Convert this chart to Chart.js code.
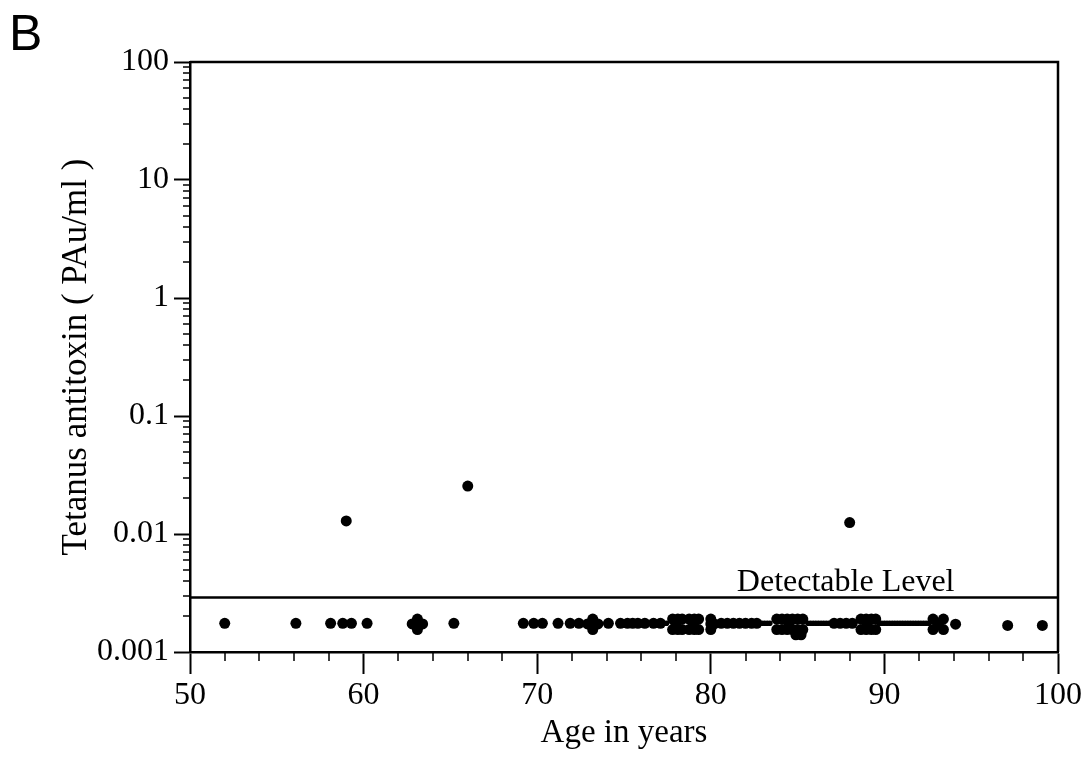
<!DOCTYPE html>
<html>
<head>
<meta charset="utf-8">
<title>Tetanus antitoxin by age</title>
<script src="https://cdn.jsdelivr.net/npm/chart.js@4.4.1/dist/chart.umd.min.js"></script>
<style>
  html, body { margin: 0; padding: 0; background: #fff; }
  #wrap { width: 1088px; height: 760px; }
</style>
</head>
<body>
<div id="wrap"><canvas id="chart" width="1088" height="760"></canvas></div>
<script>
// values (age in years, antitoxin in PAu/ml)
const detectedAges = [59, 66, 88];
const detectedValues = [0.0129, 0.0255, 0.0125];

// samples below the detectable level, plotted at ~0.0017
const belowAges = [52.0, 56.1, 58.1, 58.8, 59.3, 60.2,
  62.8, 63.1, 63.1, 63.1, 63.4, 65.2,
  69.2, 69.8, 70.3, 71.2, 71.9, 72.4,
  72.9, 73.2, 73.2, 73.2, 73.5,
  74.1, 74.8, 75.2, 75.5, 75.8, 76.2, 76.7, 77.1,
  77.8, 78.1, 78.35, 77.8, 78.1, 78.35, 78.0,
  78.75, 79.05, 79.3, 78.75, 79.05, 79.3, 79.0,
  80.0, 80.0, 80.0, 80.2,
  80.6, 80.95, 81.3, 81.65, 82.0, 82.35, 82.65,
  83.8, 84.1, 84.4, 84.7, 85.0, 85.3, 83.8, 84.1, 84.4, 84.7, 85.0, 85.3, 84.5, 84.9, 85.2,
  87.1, 87.45, 87.8, 88.15,
  88.65, 88.95, 89.25, 89.5, 88.65, 88.95, 89.25, 89.5, 89.0,
  92.8, 93.4, 93.1, 92.8, 93.4,
  94.1, 97.1, 99.1];
const belowValues = [0.00175, 0.00175, 0.00175, 0.00175, 0.00175, 0.00175,
  0.00173, 0.0019, 0.00173, 0.00155, 0.00173, 0.00175,
  0.00175, 0.00175, 0.00175, 0.00175, 0.00175, 0.00175,
  0.00173, 0.0019, 0.00173, 0.00155, 0.00173,
  0.00175, 0.00175, 0.00175, 0.00175, 0.00175, 0.00175, 0.00175, 0.00175,
  0.0019, 0.0019, 0.0019, 0.00155, 0.00155, 0.00155, 0.00173,
  0.0019, 0.0019, 0.0019, 0.00155, 0.00155, 0.00155, 0.00173,
  0.0019, 0.00173, 0.00155, 0.00173,
  0.00175, 0.00175, 0.00175, 0.00175, 0.00175, 0.00175, 0.00175,
  0.0019, 0.0019, 0.0019, 0.0019, 0.0019, 0.0019, 0.00155, 0.00155, 0.00155, 0.00155, 0.00155, 0.00155, 0.00173, 0.0014, 0.0014,
  0.00175, 0.00175, 0.00175, 0.00175,
  0.0019, 0.0019, 0.0019, 0.0019, 0.00155, 0.00155, 0.00155, 0.00155, 0.00173,
  0.0019, 0.0019, 0.00173, 0.00155, 0.00155,
  0.00172, 0.00168, 0.00168];

// densely packed runs that print as a thin bar
const runAges = [77.15, 77.3, 77.45,
  82.8, 82.95, 83.1, 83.25, 83.4,
  85.6, 85.75, 85.9, 86.05, 86.2, 86.35, 86.5, 86.65, 86.8,
  89.7, 89.85, 90.0, 90.15, 90.3, 90.45, 90.6, 90.75, 90.9, 91.05, 91.2,
  91.35, 91.5, 91.65, 91.8, 91.95, 92.1, 92.25, 92.4, 92.55];
const runValue = 0.00175;

const detectableLevel = 0.0029;
const detectableLabel = 'Detectable Level';
const detectableLabelAge = 81.5;

const xMin = 50, xMax = 100, xStep = 10;
const xMinorTicks = [52, 54, 56, 58, 62, 64, 66, 68, 72, 74, 76, 78, 82, 84, 86, 88, 92, 94, 96, 98];
const yTickValues = [0.001, 0.01, 0.1, 1, 10, 100];
const yTickLabels = ['0.001', '0.01', '0.1', '1', '10', '100'];
const yMinorSteps = [2, 3, 4, 5, 6, 7, 8, 9];

const serif = '"Liberation Serif", "Times New Roman", serif';
const toPts = (xs, ys) => xs.map((x, i) => ({ x, y: Array.isArray(ys) ? ys[i] : ys }));

const extras = {
  id: 'extras',
  afterDraw(chart){
    const ctx = chart.ctx, a = chart.chartArea;
    const xs = chart.scales.x, ys = chart.scales.y;
    ctx.save();
    ctx.strokeStyle = '#000';
    // box: top and right
    ctx.lineWidth = 2.5;
    ctx.beginPath();
    ctx.moveTo(a.left, a.top); ctx.lineTo(a.right, a.top); ctx.lineTo(a.right, a.bottom);
    ctx.stroke();
    // minor ticks
    ctx.lineWidth = 1.5;
    ctx.beginPath();
    xMinorTicks.forEach(v => {
      const px = Math.round(xs.getPixelForValue(v));
      ctx.moveTo(px, a.bottom); ctx.lineTo(px, a.bottom + 9);
    });
    yTickValues.slice(0, -1).forEach(d => yMinorSteps.forEach(m => {
      const py = Math.round(ys.getPixelForValue(d * m));
      ctx.moveTo(a.left - 7, py); ctx.lineTo(a.left, py);
    }));
    ctx.stroke();
    // label over the detectable-level line
    ctx.fillStyle = '#000';
    ctx.font = '32px ' + serif;
    ctx.textBaseline = 'alphabetic';
    ctx.fillText(detectableLabel, xs.getPixelForValue(detectableLabelAge), ys.getPixelForValue(detectableLevel) - 6);
    // panel letter
    ctx.font = '50px "Liberation Sans", Arial, sans-serif';
    ctx.fillText('B', 9, 50);
    ctx.restore();
  }
};

new Chart(document.getElementById('chart').getContext('2d'), {
  type: 'scatter',
  data: {
    datasets: [
      { label: 'detectable level', type: 'line', data: toPts([xMin, xMax], detectableLevel),
        borderColor: '#000', borderWidth: 2.5, pointRadius: 0, fill: false },
      { label: 'runs', data: toPts(runAges, runValue),
        backgroundColor: '#000', borderWidth: 0, pointRadius: 2.8 },
      { label: 'below', data: toPts(belowAges, belowValues),
        backgroundColor: '#000', borderWidth: 0, pointRadius: 5.5 },
      { label: 'detected', data: toPts(detectedAges, detectedValues),
        backgroundColor: '#000', borderWidth: 0, pointRadius: 5.5 }
    ]
  },
  options: {
    responsive: false,
    animation: false,
    devicePixelRatio: 1,
    layout: { padding: { top: 62, right: 30, left: 0, bottom: 0 } },
    plugins: { legend: { display: false }, tooltip: { enabled: false } },
    scales: {
      x: {
        type: 'linear', min: xMin, max: xMax,
        ticks: { stepSize: xStep, color: '#000', font: { family: serif, size: 32 }, padding: 2, maxRotation: 0 },
        grid: { drawOnChartArea: false, drawTicks: true, tickLength: 22, tickWidth: 2, tickColor: '#000' },
        border: { display: true, color: '#000', width: 2.5 },
        title: { display: true, text: 'Age in years', color: '#000', font: { family: serif, size: 33 }, padding: { top: 7, bottom: 7 } },
        afterFit: s => { s.height = 108; }
      },
      y: {
        type: 'logarithmic', min: 0.001, max: 100,
        afterBuildTicks: s => { s.ticks = yTickValues.map(v => ({ value: v, major: true })); },
        ticks: {
          color: '#000', font: { family: serif, size: 32 }, padding: 5, autoSkip: false,
          callback: v => {
            const i = yTickValues.findIndex(t => Math.abs(t - v) / t < 1e-6);
            return i >= 0 ? yTickLabels[i] : '';
          }
        },
        grid: { drawOnChartArea: false, drawTicks: true, tickLength: 16, tickWidth: 2, tickColor: '#000' },
        border: { display: true, color: '#000', width: 2.5 },
        title: { display: true, text: 'Tetanus antitoxin ( PAu/ml )', color: '#000', font: { family: serif, size: 35 }, padding: { top: 56, bottom: 56 } },
        afterFit: s => { s.width = 190; }
      }
    }
  },
  plugins: [extras]
});
</script>
</body>
</html>
